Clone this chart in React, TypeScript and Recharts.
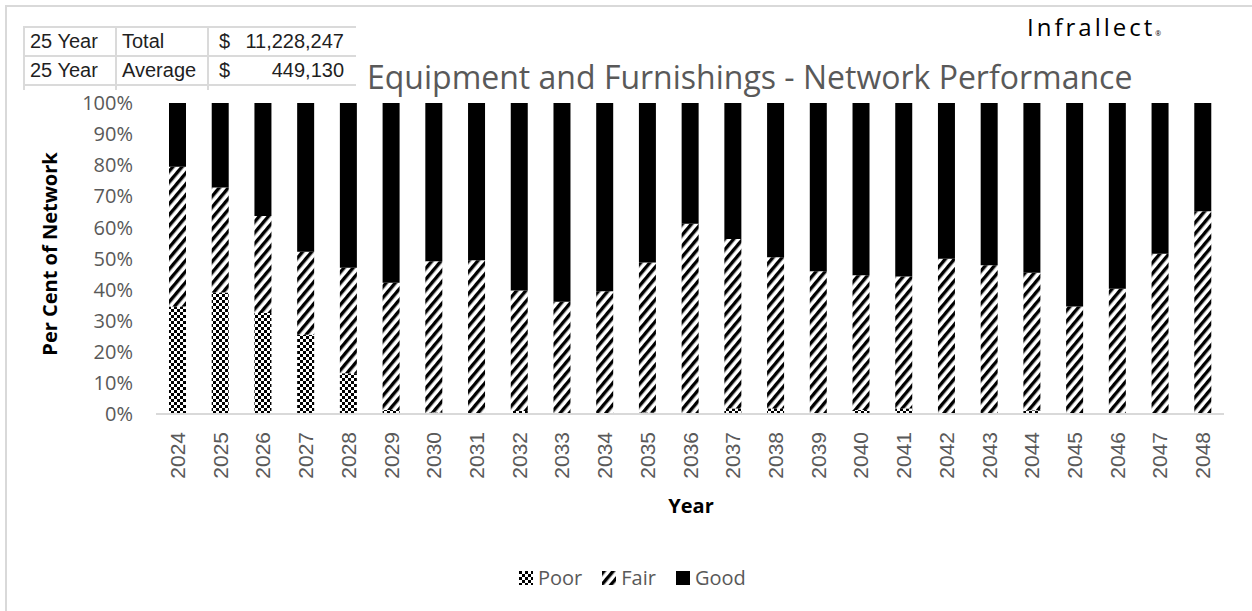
import React from "react";
import { BarChart, Bar, XAxis, YAxis } from "recharts";

// Years on the x axis
const years = [
  "2024", "2025", "2026", "2027", "2028", "2029", "2030", "2031", "2032",
  "2033", "2034", "2035", "2036", "2037", "2038", "2039", "2040", "2041",
  "2042", "2043", "2044", "2045", "2046", "2047", "2048",
];

// Per cent of network in each condition
const poor = [
  34.6, 39.1, 32.5, 25.5, 13.1, 1.3, 0.5, 0.2, 1.0, 0.2, 0.2, 0.5, 0.2,
  1.8, 1.8, 0.3, 1.3, 1.8, 0.3, 0.2, 1.2, 0.2, 0.2, 0.3, 0.3,
];
const fair = [
  44.9, 33.7, 31.2, 26.7, 33.9, 40.9, 48.6, 49.2, 38.7, 35.9, 39.3, 48.2,
  61.0, 54.5, 48.6, 45.6, 43.3, 42.4, 49.6, 47.6, 44.2, 34.4, 40.1, 51.2, 64.9,
];
const good = [
  20.5, 27.2, 36.3, 47.8, 53.0, 57.8, 50.9, 50.6, 60.3, 63.9, 60.5, 51.3,
  38.8, 43.7, 49.6, 54.1, 55.4, 55.8, 50.1, 52.2, 54.6, 65.4, 59.7, 48.5, 34.8,
];

const yTicks = [0, 10, 20, 30, 40, 50, 60, 70, 80, 90, 100];

const summaryRows = [
  { a: "25 Year", b: "Total", value: "11,228,247" },
  { a: "25 Year", b: "Average", value: "449,130" },
];

const legendItems = [
  { name: "Poor", fill: "url(#poorPattern)" },
  { name: "Fair", fill: "url(#fairPattern)" },
  { name: "Good", fill: "#000" },
];

const data = years.map((year, i) => ({
  year,
  Poor: poor[i],
  Fair: fair[i],
  Good: good[i],
}));

const sans = "'Open Sans', 'Noto Sans', sans-serif";
const arial = "'Liberation Sans', Arial, sans-serif";
const grey = "#595959";

const YearTick = (props: any) => {
  const { x, y, payload } = props;
  return (
    <text
      transform={`translate(${x},${y + 18}) rotate(-90)`}
      textAnchor="end"
      dy="0.36em"
      fill={grey}
      fontSize={21}
      fontFamily={arial}
    >
      {payload.value}
    </text>
  );
};

export default function App() {
  const cell: React.CSSProperties = {
    borderRight: "2px solid #dadada",
    borderBottom: "2px solid #dadada",
    padding: "0 0 0 5px",
    height: 27,
    whiteSpace: "nowrap",
    overflow: "hidden",
  };

  return (
    <div
      style={{
        position: "absolute",
        left: 0,
        top: 0,
        width: 1252,
        height: 611,
        overflow: "hidden",
        background: "#fff",
      }}
    >
      {/* outer chart border */}
      <div
        style={{
          position: "absolute",
          left: 5,
          top: 5,
          width: 1300,
          height: 700,
          border: "2px solid #d9d9d9",
        }}
      />

      {/* summary table */}
      <table
        style={{
          position: "absolute",
          left: 23,
          top: 26,
          width: 332,
          tableLayout: "fixed",
          borderCollapse: "collapse",
          borderTop: "2px solid #dadada",
          borderLeft: "2px solid #dadada",
          fontFamily: arial,
          fontSize: 20,
          color: "#1f1f1f",
        }}
      >
        <colgroup>
          <col style={{ width: 92 }} />
          <col style={{ width: 92 }} />
          <col style={{ width: 148 }} />
        </colgroup>
        <tbody>
          {summaryRows.map((r, i) => (
            <tr key={i}>
              <td style={cell}>{r.a}</td>
              <td style={cell}>{r.b}</td>
              <td style={{ ...cell, borderRight: "none", paddingLeft: 10, paddingRight: 12 }}>
                <span style={{ float: "left" }}>$</span>
                <span style={{ float: "right" }}>{r.value}</span>
              </td>
            </tr>
          ))}
          <tr>
            <td style={{ ...cell, height: 4, borderBottom: "none" }} />
            <td style={{ ...cell, height: 4, borderBottom: "none" }} />
            <td style={{ ...cell, height: 4, borderBottom: "none", borderRight: "none" }} />
          </tr>
        </tbody>
      </table>

      {/* logo */}
      <div
        style={{
          position: "absolute",
          left: 1027,
          top: 15,
          fontFamily: sans,
          fontSize: 24,
          lineHeight: 1,
          letterSpacing: 3,
          color: "#000",
        }}
      >
        Infrallect<span style={{ fontSize: 7, letterSpacing: 0 }}>®</span>
      </div>

      {/* title */}
      <div
        style={{
          position: "absolute",
          left: 367,
          top: 61,
          fontFamily: sans,
          fontSize: 32,
          lineHeight: 1,
          color: grey,
          whiteSpace: "nowrap",
        }}
      >
        Equipment and Furnishings - Network Performance
      </div>

      <div style={{ position: "absolute", left: 0, top: 0 }}>
        <BarChart
          width={1252}
          height={611}
          data={data}
          margin={{ top: 103, right: 28, bottom: 127, left: 86 }}
        >
          <defs>
            <pattern id="poorPattern" patternUnits="userSpaceOnUse" width="6" height="6">
              <rect width="6" height="6" fill="#fff" />
              <rect x="0" y="0" width="3" height="3" fill="#000" />
              <rect x="3" y="3" width="3" height="3" fill="#000" />
            </pattern>
            <pattern
              id="fairPattern"
              patternUnits="userSpaceOnUse"
              width="7"
              height="7"
              patternTransform="rotate(40)"
            >
              <rect width="7" height="7" fill="#fff" />
              <rect x="0" y="0" width="3.4" height="7" fill="#000" />
            </pattern>
          </defs>
          <XAxis
            dataKey="year"
            interval={0}
            height={70}
            tickLine={false}
            tickSize={0}
            tickMargin={0}
            axisLine={{ stroke: "#d9d9d9", strokeWidth: 2 }}
            tick={<YearTick />}
            label={{
              content: () => (
                <text
                  x={691}
                  y={506}
                  textAnchor="middle"
                  dy="0.36em"
                  fontFamily={sans}
                  fontWeight="bold"
                  fontSize={20}
                  fill="#000"
                >
                  Year
                </text>
              ),
            }}
          />
          <YAxis
            width={70}
            domain={[0, 100]}
            ticks={yTicks}
            tickFormatter={(v: number) => `${v}%`}
            axisLine={false}
            tickLine={false}
            tickSize={0}
            tickMargin={23}
            tick={{ fill: grey, fontSize: 20, fontFamily: sans }}
            label={{
              content: () => (
                <text
                  x={50}
                  y={254}
                  transform="rotate(-90 50 254)"
                  textAnchor="middle"
                  dy="0.36em"
                  fontFamily={sans}
                  fontWeight="bold"
                  fontSize={20}
                  fill="#000"
                >
                  Per Cent of Network
                </text>
              ),
            }}
          />
          <Bar dataKey="Poor" stackId="a" fill="url(#poorPattern)" barSize={17} isAnimationActive={false} />
          <Bar dataKey="Fair" stackId="a" fill="url(#fairPattern)" barSize={17} isAnimationActive={false} />
          <Bar dataKey="Good" stackId="a" fill="#000" barSize={17} isAnimationActive={false} />
        </BarChart>
      </div>

      {/* legend */}
      <div
        style={{
          position: "absolute",
          left: 519,
          top: 564,
          display: "flex",
          alignItems: "center",
          fontFamily: sans,
          fontSize: 20,
          color: grey,
          whiteSpace: "nowrap",
        }}
      >
        {legendItems.map((item) => (
          <span key={item.name} style={{ display: "flex", alignItems: "center", marginRight: 20 }}>
            <svg width={14} height={14} style={{ marginRight: 5 }}>
              <rect width={14} height={14} fill={item.fill} />
            </svg>
            {item.name}
          </span>
        ))}
      </div>
    </div>
  );
}
